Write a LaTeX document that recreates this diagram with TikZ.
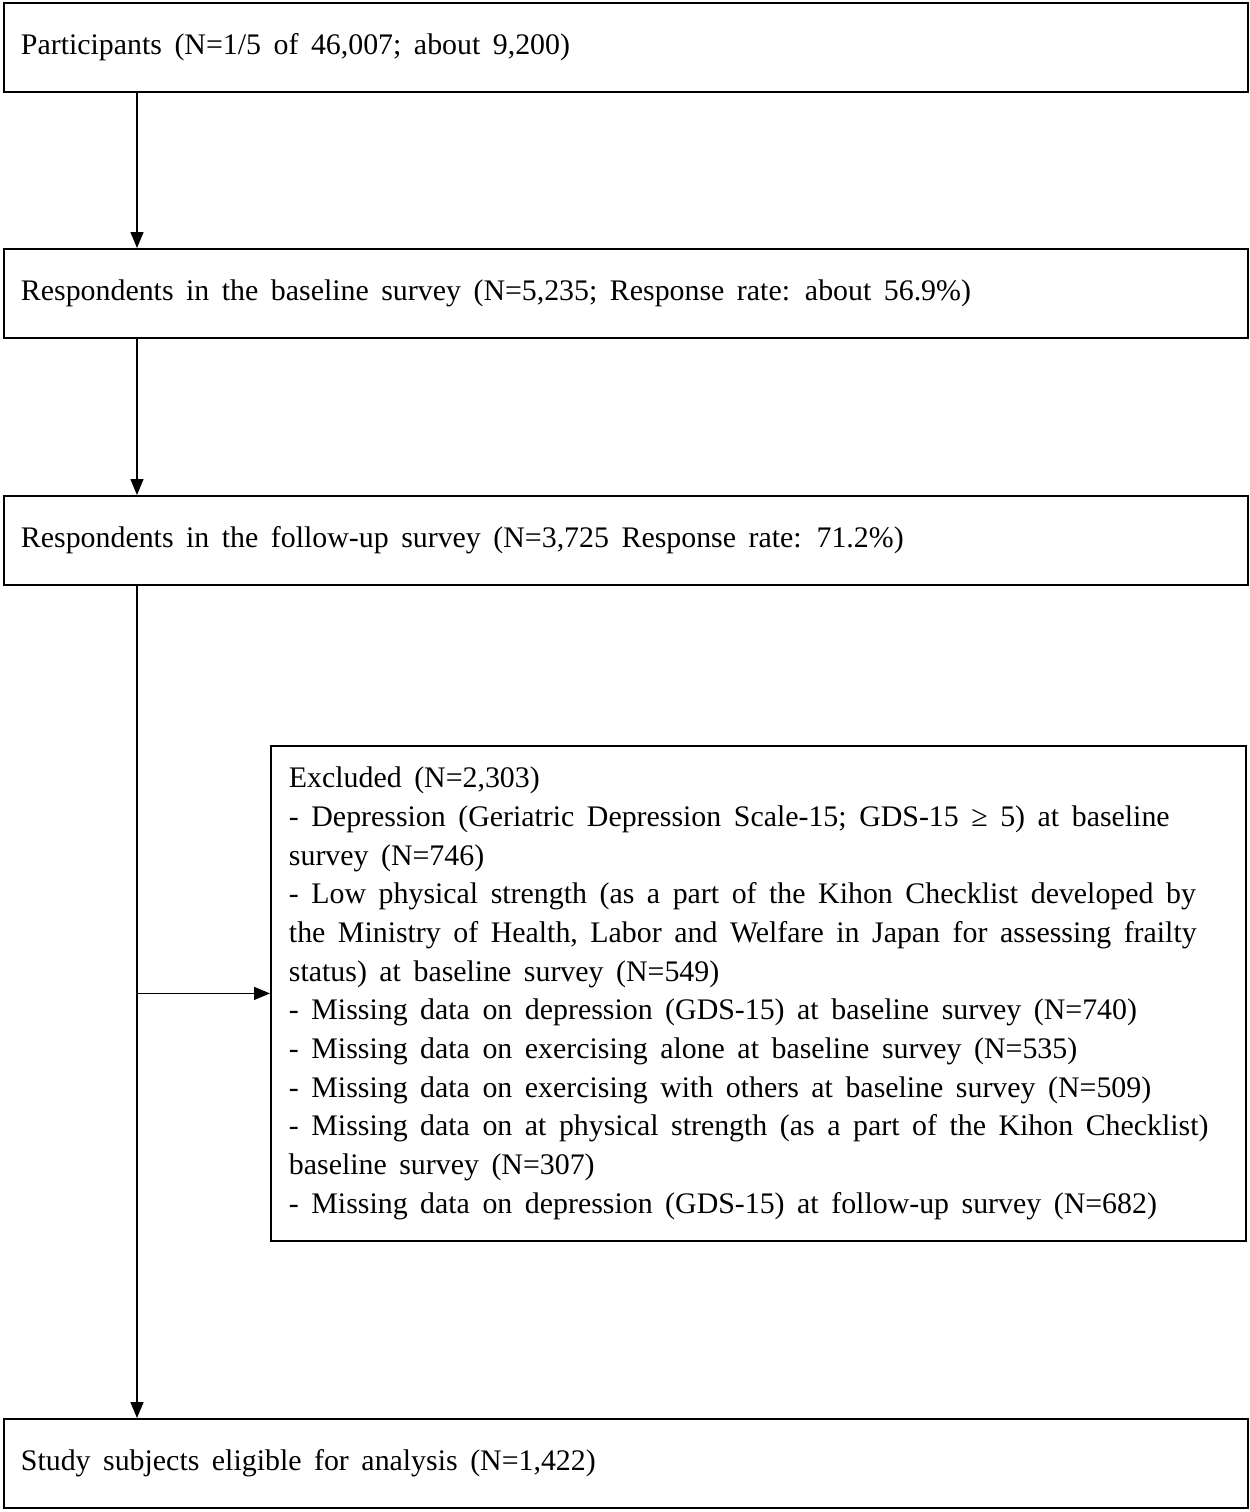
\documentclass[tikz,border=0pt]{standalone}
\usepackage{fontspec}
\setmainfont{Liberation Serif}
\usetikzlibrary{arrows.meta, positioning}

\begin{document}
\begin{tikzpicture}[
	x=0.02cm, y=-0.02cm,
	box/.style = {draw, line width=1.1pt, anchor=north west, align=left,
		text width=24.2cm, inner xsep=0.34cm, minimum height=1.78cm,
		font=\fontsize{17}{22}\selectfont,
		execute at begin node={\spaceskip=0.42em\relax}},
	exbox/.style = {box, text width=18.78cm, inner xsep=0.36cm, minimum height=9.9cm},
	arr/.style = {line width=0.85pt, -{Triangle[length=3.2mm, width=2.6mm]}}
	]
	\useasboundingbox[fill=white] (0,0) rectangle (1250,1512);
%
	\node[box] (b1) at (3,2) {Participants (N=1/5 of 46,007; about 9,200)};
	\node[box] (b2) at (3,248) {Respondents in the baseline survey (N=5,235; Response rate: about 56.9\%)};
	\node[box] (b3) at (3,495) {Respondents in the follow-up survey (N=3,725 Response rate: 71.2\%)};
	\node[box] (b4) at (3,1418) {Study subjects eligible for analysis (N=1,422)};
%
	\node[exbox] (excl) at (270,745) {Excluded (N=2,303)\\
		- Depression (Geriatric Depression Scale-15; GDS-15 ≥ 5) at baseline\\
		survey (N=746)\\
		- Low physical strength (as a part of the Kihon Checklist developed by\\
		the Ministry of Health, Labor and Welfare in Japan for assessing frailty\\
		status) at baseline survey (N=549)\\
		- Missing data on depression (GDS-15) at baseline survey (N=740)\\
		- Missing data on exercising alone at baseline survey (N=535)\\
		- Missing data on exercising with others at baseline survey (N=509)\\
		- Missing data on at physical strength (as a part of the Kihon Checklist)\\
		baseline survey (N=307)\\
		- Missing data on depression (GDS-15) at follow-up survey (N=682)};
%
	\coordinate (trunk) at (137,0);
	\draw[arr] (b1.south -| trunk) -- (b2.north -| trunk);
	\draw[arr] (b2.south -| trunk) -- (b3.north -| trunk);
	\draw[arr] (b3.south -| trunk) -- (b4.north -| trunk);
	\draw[arr] (excl.west -| trunk) -- (excl.west);
\end{tikzpicture}
\end{document}
